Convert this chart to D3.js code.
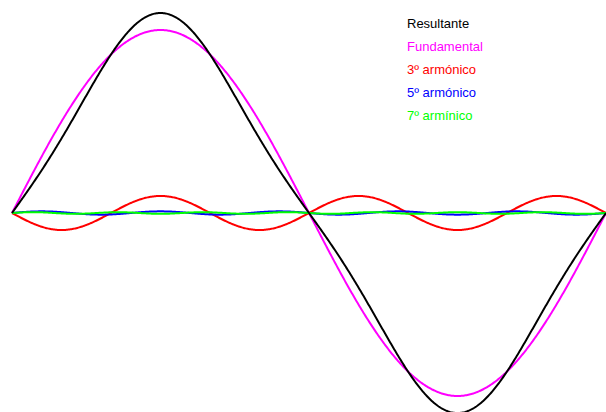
<!DOCTYPE html>
<html>
<head>
<meta charset="utf-8">
<script src="https://cdn.jsdelivr.net/npm/d3@7"></script>
<style>
  html, body { margin: 0; padding: 0; background: #fff; }
  svg { display: block; }
</style>
</head>
<body>
<svg id="chart" width="606" height="412"></svg>
<script>
// Series: harmonic order and signed amplitude (relative to fundamental)
const seriesNames = ["Fundamental", "3º armónico", "5º armónico", "7º armínico"];
const harmonicOrders = [1, 3, 5, 7];
const amplitudes = [1.0, -0.093, 0.009, 0.0045];
// The black "Resultante" curve in the picture follows fundamental + 3rd harmonic
const resultantParts = [true, true, false, false];
const legendLabels = ["Resultante", "Fundamental", "3º armónico", "5º armónico", "7º armínico"];
const legendColors = ["#000000", "#ff00ff", "#ff0000", "#0000ff", "#00ff00"];
const seriesColors = ["#ff00ff", "#ff0000", "#0000ff", "#00ff00"];

const svg = d3.select("#chart");
const x = d3.scaleLinear().domain([0, 2 * Math.PI]).range([12, 606]);
const y = d3.scaleLinear().domain([-1, 1]).range([396, 30]);

const thetas = d3.range(0, 601).map(i => i / 600 * 2 * Math.PI);
const seriesData = harmonicOrders.map((n, k) =>
  thetas.map(t => ({ t, v: amplitudes[k] * Math.sin(n * t) }))
);
const resultant = thetas.map((t, i) => ({
  t, v: d3.sum(seriesData.filter((s, k) => resultantParts[k]), s => s[i].v)
}));

const line = d3.line().x(d => x(d.t)).y(d => y(d.v)).curve(d3.curveLinear);

seriesData.forEach((s, k) => {
  svg.append("path").datum(s)
    .attr("d", line)
    .attr("fill", "none")
    .attr("stroke", seriesColors[k])
    .attr("stroke-width", 2);
});
svg.append("path").datum(resultant)
  .attr("d", line)
  .attr("fill", "none")
  .attr("stroke", "#000")
  .attr("stroke-width", 2);

const legend = svg.append("g").attr("transform", "translate(407,28)");
legendLabels.forEach((lab, i) => {
  legend.append("text")
    .attr("x", 0)
    .attr("y", i * 23)
    .attr("font-family", "Liberation Sans, Arial, sans-serif")
    .attr("font-size", 13)
    .attr("fill", legendColors[i])
    .text(lab);
});
</script>
</body>
</html>
